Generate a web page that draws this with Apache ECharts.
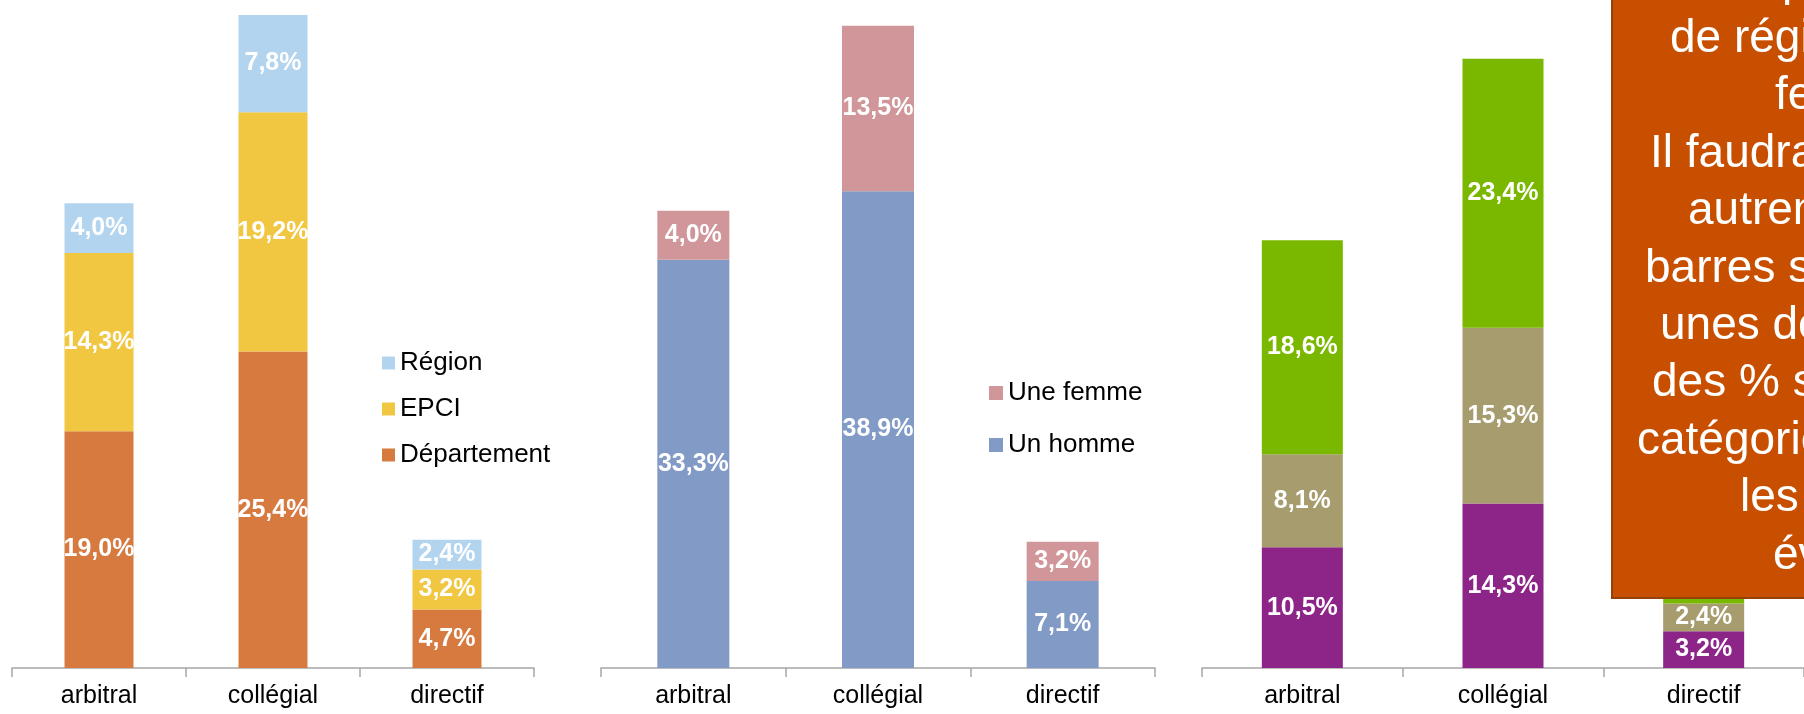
<!DOCTYPE html>
<html>
<head>
<meta charset="utf-8">
<title>Gouvernance</title>
<script src="https://cdn.jsdelivr.net/npm/echarts@6/dist/echarts.min.js"></script>
<style>
  html, body { margin: 0; padding: 0; background: #fff; }
  #main { width: 1804px; height: 714px; }
</style>
</head>
<body>
<div id="main"></div>
<script>
// catégories communes aux trois graphiques
var categories = ['arbitral', 'collégial', 'directif'];

// graphique 1 : type de collectivité
var region = [4.0, 7.8, 2.4];
var epci = [14.3, 19.2, 3.2];
var departement = [19.0, 25.4, 4.7];

// graphique 2 : sexe
var uneFemme = [4.0, 13.5, 3.2];
var unHomme = [33.3, 38.9, 7.1];

// graphique 3 : légende masquée par l'encadré
var serieViolet = [10.5, 14.3, 3.2];
var serieBeige = [8.1, 15.3, 2.4];
var serieVerte = [18.6, 23.4, 4.7];

// texte de l'encadré (coupé par le bord droit)
var noteLines = ['p', 'de région', 'femme', 'Il faudrait', 'autrement', 'barres séparées',
  'unes des', 'des % sur', 'catégories', 'les', 'évidentes'];
var noteStart = [1782, 1670, 1775, 1650, 1688, 1645, 1660, 1652, 1637, 1740, 1773];

var FONT = '"Liberation Sans", Arial, sans-serif';

function pct(v) {
  return v.toFixed(1).replace('.', ',') + '%';
}

function barSerie(name, data, color, idx, width) {
  return {
    name: name,
    type: 'bar',
    stack: 's' + idx,
    xAxisIndex: idx,
    yAxisIndex: idx,
    barWidth: width,
    data: data,
    itemStyle: { color: color },
    label: {
      show: true,
      position: 'inside',
      color: '#fff',
      fontSize: 25,
      fontWeight: 'bold',
      fontFamily: FONT,
      formatter: function(p) { return pct(p.value); }
    }
  };
}

function xAxe(idx) {
  return {
    type: 'category',
    gridIndex: idx,
    data: categories,
    axisLine: { lineStyle: { color: '#A6A6A6', width: 1.5 } },
    axisTick: { show: true, length: 9, lineStyle: { color: '#A6A6A6', width: 1.5 } },
    axisLabel: { color: '#000', fontSize: 25, fontFamily: FONT, margin: 16, interval: 0 }
  };
}

function yAxe(idx, max) {
  return { type: 'value', gridIndex: idx, min: 0, max: max, show: false, splitLine: { show: false } };
}

function init() {
  var chart = echarts.init(document.getElementById('main'));

  var graphic = [{
    type: 'rect',
    z: 100,
    shape: { x: 1612, y: -10, width: 320, height: 608 },
    style: { fill: '#C84F00', stroke: '#94420C', lineWidth: 2 }
  }];
  noteLines.forEach(function(t, i) {
    graphic.push({
      type: 'text',
      z: 101,
      style: {
        text: t,
        x: noteStart[i],
        y: -2 + 57.4 * i - 16,
        fill: '#fff',
        font: '46px ' + FONT,
        textAlign: 'left',
        textVerticalAlign: 'middle'
      }
    });
  });

  var option = {
    animation: false,
    backgroundColor: '#fff',
    grid: [
      { left: 12, top: 0, width: 522, bottom: 46 },
      { left: 601, top: 0, width: 554, bottom: 46 },
      { left: 1202, top: 0, width: 615, bottom: 46 }
    ],
    xAxis: [xAxe(0), xAxe(1), xAxe(2)],
    yAxis: [yAxe(0, 53.6), yAxe(1, 54.5), yAxe(2, 58.1)],
    legend: [{
      data: ['Région', 'EPCI', 'Département'],
      orient: 'vertical',
      left: 377,
      top: 345,
      icon: 'rect',
      itemWidth: 13,
      itemHeight: 13,
      itemGap: 20,
      textStyle: { color: '#000', fontSize: 26, fontFamily: FONT, lineHeight: 26 }
    }, {
      data: ['Une femme', 'Un homme'],
      orient: 'vertical',
      left: 984,
      top: 375,
      icon: 'rect',
      itemWidth: 14,
      itemHeight: 14,
      itemGap: 26,
      textStyle: { color: '#000', fontSize: 26, fontFamily: FONT, lineHeight: 26 }
    }],
    series: [
      barSerie('Département', departement, '#D77A40', 0, 69),
      barSerie('EPCI', epci, '#F1C640', 0, 69),
      barSerie('Région', region, '#B3D4EE', 0, 69),
      barSerie('Un homme', unHomme, '#819AC6', 1, 72),
      barSerie('Une femme', uneFemme, '#D0969A', 1, 72),
      barSerie('Série 1', serieViolet, '#8D2589', 2, 81),
      barSerie('Série 2', serieBeige, '#A69C6E', 2, 81),
      barSerie('Série 3', serieVerte, '#7AB800', 2, 81)
    ],
    graphic: graphic
  };

  chart.setOption(option);
}

init();
</script>
</body>
</html>
